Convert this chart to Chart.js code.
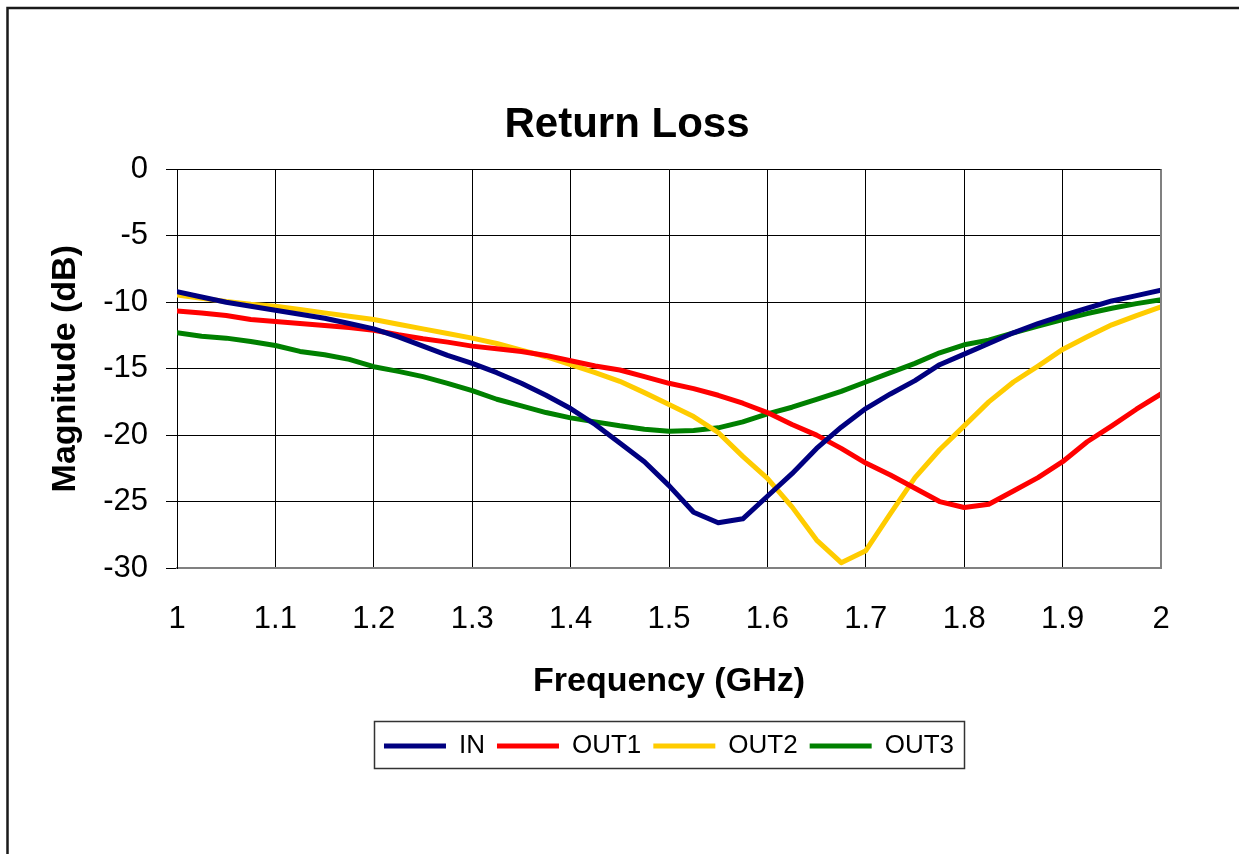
<!DOCTYPE html>
<html>
<head>
<meta charset="utf-8">
<script src="https://cdn.jsdelivr.net/npm/chart.js@4/dist/chart.umd.min.js"></script>
<style>
  html, body { margin: 0; padding: 0; background: #fff; }
  #c { display: block; }
</style>
</head>
<body>
<canvas id="c" width="1239" height="854"></canvas>
<script>
const freqGHz = [1.000, 1.025, 1.050, 1.075, 1.100, 1.125, 1.150, 1.175, 1.200, 1.225,
                 1.250, 1.275, 1.300, 1.325, 1.350, 1.375, 1.400, 1.425, 1.450, 1.475,
                 1.500, 1.525, 1.550, 1.575, 1.600, 1.625, 1.650, 1.675, 1.700, 1.725,
                 1.750, 1.775, 1.800, 1.825, 1.850, 1.875, 1.900, 1.925, 1.950, 1.975, 2.000];

const inDB   = [-9.2, -9.6, -10.0, -10.3, -10.6, -10.9, -11.2, -11.6, -12.0, -12.6,
                -13.3, -14.0, -14.6, -15.3, -16.1, -17.0, -18.0, -19.2, -20.6, -22.0,
                -23.8, -25.8, -26.6, -26.3, -24.6, -22.9, -21.0, -19.4, -18.0, -16.9,
                -15.9, -14.7, -13.9, -13.1, -12.3, -11.6, -11.0, -10.45, -9.9, -9.5, -9.1];

const out1DB = [-10.65, -10.8, -11.0, -11.3, -11.45, -11.6, -11.75, -11.9, -12.1, -12.45,
                -12.75, -13.0, -13.3, -13.5, -13.7, -14.0, -14.4, -14.8, -15.1, -15.6,
                -16.1, -16.5, -17.0, -17.6, -18.3, -19.2, -20.0, -21.0, -22.1, -23.0,
                -24.0, -25.0, -25.45, -25.2, -24.2, -23.2, -22.0, -20.5, -19.3, -18.05, -16.9];

const out2DB = [-9.45, -9.7, -9.95, -10.15, -10.3, -10.55, -10.8, -11.05, -11.3, -11.65,
                -12.0, -12.35, -12.7, -13.1, -13.6, -14.1, -14.7, -15.3, -15.95, -16.8,
                -17.7, -18.6, -19.8, -21.6, -23.25, -25.4, -27.9, -29.6, -28.7, -25.9,
                -23.2, -21.1, -19.3, -17.5, -16.0, -14.8, -13.55, -12.6, -11.7, -11.0, -10.35];

const out3DB = [-12.3, -12.55, -12.7, -12.95, -13.25, -13.7, -13.95, -14.3, -14.85, -15.2,
                -15.6, -16.1, -16.65, -17.3, -17.8, -18.3, -18.7, -19.0, -19.3, -19.55,
                -19.7, -19.65, -19.45, -19.0, -18.4, -17.9, -17.3, -16.7, -16.0, -15.3,
                -14.6, -13.8, -13.2, -12.85, -12.3, -11.8, -11.3, -10.85, -10.45, -10.1, -9.8];

const seriesNames = ['IN', 'OUT1', 'OUT2', 'OUT3'];
const xTickLabels = ['1', '1.1', '1.2', '1.3', '1.4', '1.5', '1.6', '1.7', '1.8', '1.9', '2'];
const yTickLabels = ['-30', '-25', '-20', '-15', '-10', '-5', '0'];

const colors = ['#000080', '#FF0000', '#FFCC00', '#008000'];
const allSeries = [inDB, out1DB, out2DB, out3DB];
const FONT = "'Liberation Sans', Arial, sans-serif";

Chart.defaults.color = '#000';
Chart.defaults.font.family = FONT;

const datasets = allSeries.map((vals, i) => ({
  label: seriesNames[i],
  data: freqGHz.map((f, j) => ({ x: f, y: vals[j] })),
  borderColor: colors[i],
  backgroundColor: colors[i],
  borderWidth: 5,
  pointRadius: 0,
  tension: 0,
  borderJoinStyle: 'round',
  borderCapStyle: 'round'
}));

const framePlugin = {
  id: 'frame',
  beforeDraw(chart) {
    const ctx = chart.ctx;
    ctx.save();
    ctx.fillStyle = '#fff';
    ctx.fillRect(0, 0, chart.width, chart.height);
    ctx.strokeStyle = '#1a1a1a';
    ctx.lineWidth = 2.5;
    ctx.beginPath();
    ctx.moveTo(7.5, chart.height + 5);
    ctx.lineTo(7.5, 8);
    ctx.lineTo(chart.width + 5, 8);
    ctx.stroke();
    ctx.restore();
  },
  afterDraw(chart) {
    const ctx = chart.ctx;
    const a = chart.chartArea;
    ctx.save();
    ctx.strokeStyle = '#808080';
    ctx.lineWidth = 2;
    ctx.beginPath();
    ctx.moveTo(a.right, a.top);
    ctx.lineTo(a.right, a.bottom);
    ctx.stroke();
    const lg = chart.legend;
    if (lg && lg.legendHitBoxes && lg.legendHitBoxes.length) {
      let l = Infinity, r = -Infinity;
      lg.legendHitBoxes.forEach(h => { l = Math.min(l, h.left); r = Math.max(r, h.left + h.width); });
      ctx.strokeStyle = '#333';
      ctx.lineWidth = 1.5;
      ctx.strokeRect(Math.round(l - 10) + 0.5, Math.round(lg.top) + 0.5, Math.round(r - l + 20), Math.round(lg.height - 1));
    }
    ctx.restore();
  }
};

new Chart(document.getElementById('c'), {
  type: 'line',
  data: { datasets },
  options: {
    responsive: false,
    animation: false,
    layout: { padding: { left: 93, right: 78, top: 0, bottom: 85 } },
    plugins: {
      title: {
        display: true,
        text: 'Return Loss',
        color: '#000',
        font: { family: FONT, size: 42, weight: 'bold', lineHeight: 1.2 },
        padding: { top: 100, bottom: 19 }
      },
      legend: {
        display: true,
        position: 'bottom',
        fullSize: false,
        labels: {
          color: '#000',
          font: { family: FONT, size: 26 },
          boxWidth: 62,
          boxHeight: 5,
          padding: 12,
          generateLabels(chart) {
            return chart.data.datasets.map((ds, i) => ({
              text: ds.label,
              fillStyle: ds.borderColor,
              strokeStyle: ds.borderColor,
              lineWidth: 0,
              hidden: false,
              datasetIndex: i
            }));
          }
        }
      },
      tooltip: { enabled: false }
    },
    scales: {
      x: {
        type: 'linear',
        min: 1,
        max: 2,
        afterFit(scale) { scale.height = 153; },
        afterBuildTicks(scale) {
          scale.ticks = xTickLabels.map(t => ({ value: parseFloat(t) }));
        },
        ticks: {
          font: { family: FONT, size: 31 },
          color: '#000',
          padding: 33,
          maxRotation: 0,
          autoSkip: false,
          callback(v, i) { return xTickLabels[i]; }
        },
        grid: { color: '#000', lineWidth: 1, drawTicks: false },
        border: { color: '#808080', width: 2 },
        title: {
          display: true,
          text: 'Frequency (GHz)',
          color: '#000',
          font: { family: FONT, size: 34, weight: 'bold', lineHeight: 1.2 },
          padding: { top: 0, bottom: 19 }
        }
      },
      y: {
        type: 'linear',
        min: -30,
        max: 0,
        afterFit(scale) { scale.width = 84; },
        afterBuildTicks(scale) {
          scale.ticks = yTickLabels.map(t => ({ value: parseFloat(t) }));
        },
        ticks: {
          font: { family: FONT, size: 31 },
          color: '#000',
          padding: 18,
          callback(v, i) { return yTickLabels[i]; }
        },
        grid: { color: '#000', lineWidth: 1, tickLength: 11 },
        border: { color: '#000', width: 1 },
        title: {
          display: true,
          text: 'Magnitude (dB)',
          color: '#000',
          font: { family: FONT, size: 34, weight: 'bold', lineHeight: 1.2 },
          padding: { top: -48, bottom: 0 }
        }
      }
    }
  },
  plugins: [framePlugin]
});
</script>
</body>
</html>
